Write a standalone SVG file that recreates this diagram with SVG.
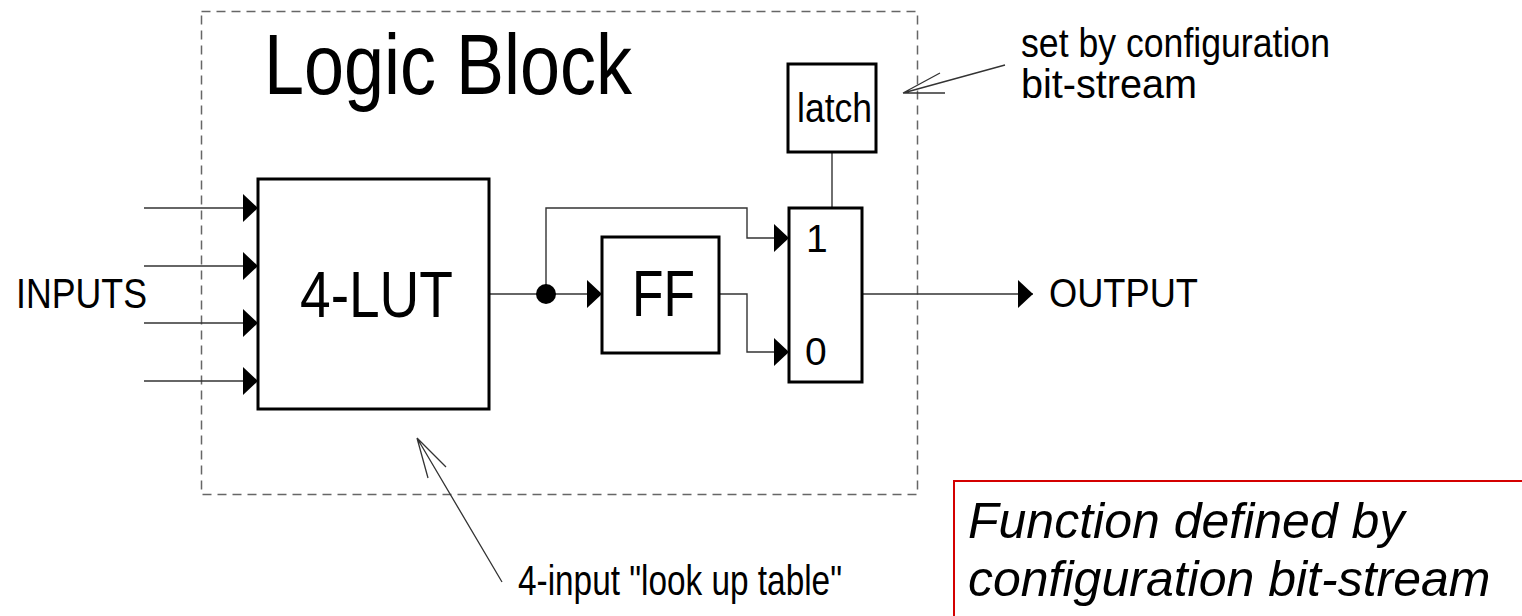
<svg xmlns="http://www.w3.org/2000/svg" width="1522" height="616" viewBox="0 0 1522 616">
<style>
.box{fill:#fff;stroke:#000;stroke-width:3}
.wire{fill:none;stroke:#333;stroke-width:1.4}
.note{fill:none;stroke:#333;stroke-width:1.3}
.dash{fill:none;stroke:#666;stroke-width:1.5;stroke-dasharray:9 6}
.t{font-family:"Liberation Sans",Arial,sans-serif;fill:#000}
.it{font-family:"Liberation Sans",Arial,sans-serif;font-style:italic;fill:#000}
</style>
<defs>
<marker id="arr" viewBox="0 0 15 28" refX="15" refY="14" markerWidth="15" markerHeight="28" markerUnits="userSpaceOnUse" orient="auto">
<path d="M0,0 L15,14 L0,28 Z" fill="#000"/>
</marker>
</defs>
<rect width="1522" height="616" fill="#fff"/>
<g id="logic-block">
<rect class="dash" x="201.5" y="11.5" width="716" height="483"/>
<text class="t" x="264" y="94" font-size="86" textLength="368" lengthAdjust="spacingAndGlyphs">Logic Block</text>
</g>
<g id="connectors">
<line class="wire" x1="144" y1="208" x2="258" y2="208" marker-end="url(#arr)"/>
<line class="wire" x1="144" y1="266" x2="258" y2="266" marker-end="url(#arr)"/>
<line class="wire" x1="144" y1="323" x2="258" y2="323" marker-end="url(#arr)"/>
<line class="wire" x1="144" y1="381" x2="258" y2="381" marker-end="url(#arr)"/>
<line class="wire" x1="489" y1="294" x2="546" y2="294"/>
<line class="wire" x1="546" y1="294" x2="602" y2="294" marker-end="url(#arr)"/>
<path class="wire" d="M546,294 V208 H747 V238 H789" marker-end="url(#arr)"/>
<path class="wire" d="M719,294 H747 V352 H789" marker-end="url(#arr)"/>
<line class="wire" x1="862" y1="294" x2="1033" y2="294" marker-end="url(#arr)"/>
<line class="wire" x1="832" y1="152" x2="832" y2="208"/>
<circle cx="546" cy="294" r="10" fill="#000"/>
<path class="note" d="M1005,65 L903,93 M903,93 L940,73 M903,93 L945,93"/>
<path class="note" d="M502,582 L417,438 M417,438 L428,478 M417,438 L446,467"/>
</g>
<g id="inputs">
<text class="t" x="16" y="308" font-size="42" textLength="131" lengthAdjust="spacingAndGlyphs">INPUTS</text>
</g>
<g id="lut">
<rect class="box" x="258" y="179" width="231" height="230"/>
<text class="t" x="300" y="317" font-size="65" textLength="153" lengthAdjust="spacingAndGlyphs">4-LUT</text>
</g>
<g id="ff">
<rect class="box" x="602" y="237" width="117" height="116"/>
<text class="t" x="632" y="316" font-size="65" textLength="63" lengthAdjust="spacingAndGlyphs">FF</text>
</g>
<g id="mux">
<rect class="box" x="789" y="208" width="73" height="174"/>
<text class="t" x="806" y="252" font-size="39">1</text>
<text class="t" x="805" y="365" font-size="39">0</text>
</g>
<g id="latch">
<rect class="box" x="788" y="64" width="88" height="88"/>
<text class="t" x="797" y="122" font-size="41" textLength="75" lengthAdjust="spacingAndGlyphs">latch</text>
</g>
<g id="output">
<text class="t" x="1049" y="307" font-size="40" textLength="149" lengthAdjust="spacingAndGlyphs">OUTPUT</text>
</g>
<g id="config-note">
<text class="t" x="1021" y="57" font-size="40" textLength="309" lengthAdjust="spacingAndGlyphs">set by configuration</text>
<text class="t" x="1021" y="98" font-size="40" textLength="176" lengthAdjust="spacingAndGlyphs">bit-stream</text>
</g>
<g id="lut-note">
<text class="t" x="518" y="595" font-size="42" textLength="324" lengthAdjust="spacingAndGlyphs">4-input "look up table"</text>
</g>
<g id="function-box">
<rect x="954" y="481" width="600" height="200" fill="none" stroke="#d40000" stroke-width="2"/>
<text class="it" x="968" y="538" font-size="50">Function defined by</text>
<text class="it" x="968" y="596" font-size="50">configuration bit-stream</text>
</g>
</svg>
